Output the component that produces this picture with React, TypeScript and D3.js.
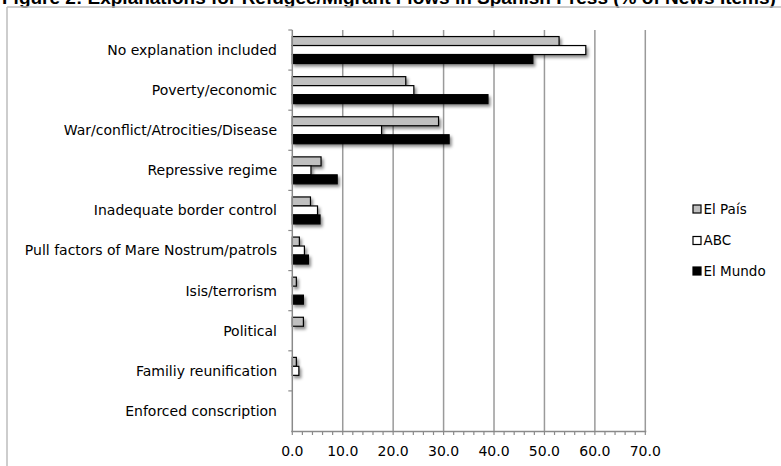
import React from "react";
import * as d3 from "d3";

const categories = [
  "No explanation included",
  "Poverty/economic",
  "War/conflict/Atrocities/Disease",
  "Repressive regime",
  "Inadequate border control",
  "Pull factors of Mare Nostrum/patrols",
  "Isis/terrorism",
  "Political",
  "Familiy reunification",
  "Enforced conscription",
];
const seriesNames = ["El País", "ABC", "El Mundo"];
const elPais = [52.9, 22.5, 29.0, 5.7, 3.6, 1.4, 0.8, 2.2, 0.8, 0];
const abc = [58.2, 24.1, 17.7, 3.7, 5.0, 2.4, 0, 0, 1.3, 0];
const elMundo = [47.7, 38.8, 31.1, 8.9, 5.5, 3.2, 2.2, 0, 0, 0];
const xTicks = [0, 10, 20, 30, 40, 50, 60, 70];
const title = "Figure 2: Explanations for Refugee/Migrant Flows in Spanish Press (% of News Items)";

const seriesValues = [elPais, abc, elMundo];
const fills = ["#c0c0c0", "#ffffff", "#000000"];

export default function App() {
  const W = 781, H = 466;
  const x = d3.scaleLinear().domain([0, 70]).range([292.3, 645.3]);
  const y = d3.scaleBand<string>().domain(categories).range([30, 431]).padding(0);
  const inner = d3.scaleBand<string>().domain(seriesNames).range([0, y.bandwidth()]).paddingInner(0).paddingOuter(0.73);
  const minor = d3.range(0, 70.001, 2);
  const font = "'DejaVu Sans', sans-serif";
  const legendY = [209, 240.5, 271];

  return (
    <svg width={W} height={H} style={{ position: "absolute", left: 0, top: 0, background: "#fff" }}>
      <defs>
        <filter id="sh" x="-20%" y="-50%" width="140%" height="250%">
          <feDropShadow dx="2" dy="2.5" stdDeviation="1.6" floodColor="#000" floodOpacity="0.45" />
        </filter>
      </defs>
      <rect x={0} y={0} width={W} height={H} fill="#fff" />
      <text x={2} y={4} fontFamily="'Liberation Sans', Arial, sans-serif" fontWeight="bold" fontSize={19} fill="#000">
        {title}
      </text>
      {/* chart border */}
      <line x1={7} x2={W + 5} y1={7} y2={7} stroke="#bdbdbd" strokeWidth={1.5} />
      <line x1={7} x2={7} y1={7} y2={H + 5} stroke="#bdbdbd" strokeWidth={1.5} />

      {/* gridlines */}
      {xTicks.slice(1).map((t) => (
        <line key={"g" + t} x1={x(t)} x2={x(t)} y1={30} y2={431} stroke="#9a9a9a" strokeWidth={1.5} />
      ))}

      {/* bars */}
      <g filter="url(#sh)">
        {categories.map((c, i) =>
          seriesNames.map((s, j) => {
            const v = seriesValues[j][i];
            if (v <= 0) return null;
            return (
              <rect
                key={c + s}
                x={x(0)}
                y={(y(c) as number) + (inner(s) as number)}
                width={x(v) - x(0)}
                height={inner.bandwidth()}
                fill={fills[j]}
                stroke="#000"
                strokeWidth={1.2}
              />
            );
          })
        )}
      </g>

      {/* y axis */}
      <line x1={x(0)} x2={x(0)} y1={30} y2={432} stroke="#8a8a8a" strokeWidth={1.5} />
      {categories.map((c) => (
        <line key={"yt" + c} x1={x(0) - 4} x2={x(0)} y1={y(c)} y2={y(c)} stroke="#8a8a8a" strokeWidth={1.2} />
      ))}
      {/* x axis */}
      <line x1={x(0) - 1} x2={x(70) + 1} y1={431.5} y2={431.5} stroke="#8a8a8a" strokeWidth={1.5} />
      {minor.map((t) => (
        <line key={"mt" + t} x1={x(t)} x2={x(t)} y1={431.5} y2={435} stroke="#8a8a8a" strokeWidth={1.2} />
      ))}
      {xTicks.map((t) => (
        <text key={"xt" + t} x={x(t)} y={456} textAnchor="middle" fontFamily={font} fontSize={14} fill="#000">
          {d3.format(".1f")(t)}
        </text>
      ))}
      {categories.map((c) => (
        <text
          key={"yl" + c}
          x={277}
          y={(y(c) as number) + y.bandwidth() / 2}
          dy="0.35em"
          textAnchor="end"
          fontFamily={font}
          fontSize={14}
          fill="#000"
        >
          {c}
        </text>
      ))}

      {/* legend */}
      {seriesNames.map((s, j) => (
        <g key={"lg" + s}>
          <rect x={693} y={legendY[j] - 4} width={8} height={8} fill={fills[j]} stroke="#000" strokeWidth={1.2} />
          <text x={703.5} y={legendY[j]} dy="0.35em" fontFamily={font} fontSize={13.5} fill="#000">
            {s}
          </text>
        </g>
      ))}
    </svg>
  );
}
